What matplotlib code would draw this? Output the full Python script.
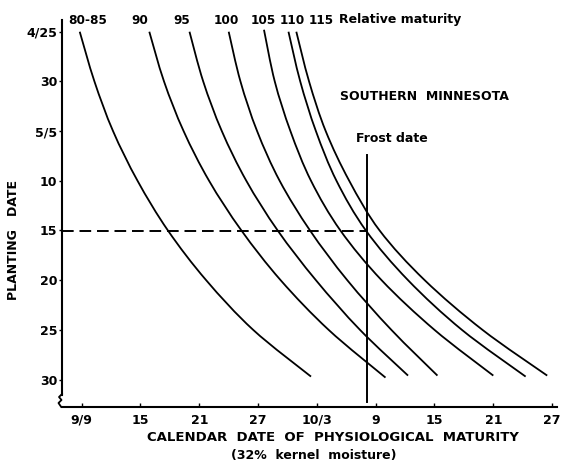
import matplotlib.pyplot as plt
from matplotlib.lines import Line2D
from matplotlib.path import Path
from matplotlib.patches import PathPatch
import numpy as np

plt.rcParams['font.family'] = 'DejaVu Sans'
plt.rcParams['font.weight'] = 'bold'

# x: days after 9/9, y: days after 4/25
x_ticks = [0, 6, 12, 18, 24, 30, 36, 42, 48]
x_labels = ['9/9', '15', '21', '27', '10/3', '9', '15', '21', '27']
y_ticks = [0, 5, 10, 15, 20, 25, 30, 35]
y_labels = ['4/25', '30', '5/5', '10', '15', '20', '25', '30']

maturity = ['80-85', '90', '95', '100', '105', '110', '115']

plant_80 = [0, 5, 10, 15, 20, 25, 30, 34.7]
mat_80 = [-0.2, 1.3, 3.2, 5.7, 8.8, 12.7, 17.5, 23.4]
plant_90 = [0, 5, 10, 15, 20, 25, 30, 34.8]
mat_90 = [6.9, 8.4, 10.4, 13.0, 16.3, 20.3, 25.2, 31.0]
plant_95 = [0, 5, 10, 15, 20, 25, 30, 34.6]
mat_95 = [11.0, 12.4, 14.3, 16.8, 20.0, 23.9, 28.4, 33.3]
plant_100 = [0, 5, 10, 15, 20, 25, 30, 34.6]
mat_100 = [15.0, 16.2, 17.9, 20.2, 23.3, 27.1, 31.6, 36.3]
plant_105 = [-0.2, 5, 10, 15, 20, 25, 30, 34.6]
mat_105 = [18.6, 19.7, 21.3, 23.4, 26.4, 30.6, 36.0, 42.0]
plant_110 = [0, 5, 10, 15, 20, 25, 30, 34.7]
mat_110 = [21.1, 22.3, 23.9, 26.0, 29.0, 33.3, 38.8, 45.3]
plant_115 = [0, 5, 10, 15, 20, 25, 30, 34.6]
mat_115 = [21.9, 23.2, 24.9, 27.3, 30.4, 35.0, 40.9, 47.5]

frost_day = 29.1
frost_plant = 20.1

W, H = 562, 465
def fx(px):
    return px / W
def fy(py):
    return 1 - py / H

def smooth_path(xs, ys):
    # Catmull-Rom through the read points, as cubic bezier pieces
    P = np.column_stack([xs, ys]).astype(float)
    n = len(P)
    verts = [P[0]]
    codes = [Path.MOVETO]
    for i in range(n - 1):
        p0 = P[i - 1] if i > 0 else P[i]
        p3 = P[i + 2] if i + 2 < n else P[i + 1]
        c1 = P[i] + (P[i + 1] - p0) / 6
        c2 = P[i + 1] - (p3 - P[i]) / 6
        verts += [c1, c2, P[i + 1]]
        codes += [Path.CURVE4] * 3
    return Path(verts, codes)

fig = plt.figure(figsize=(W / 100, H / 100), dpi=100)
ax = fig.add_axes([fx(61.7), fy(406.7), (557 - 61.7) / W, (406.7 - 20) / H])
ax.set_xlim(-2.04, 48.5)
ax.set_ylim(37.73, -1.18)

curves = [(mat_80, plant_80), (mat_90, plant_90), (mat_95, plant_95),
          (mat_100, plant_100), (mat_105, plant_105), (mat_110, plant_110),
          (mat_115, plant_115)]
for m, p in curves:
    ax.add_patch(PathPatch(smooth_path(m, p), fill=False, edgecolor='k', linewidth=1.3))

# frost date + 5/15 planting
ax.plot([frost_day, frost_day], [12.4, 37.3], color='k', linewidth=1.4)
ax.plot([-2.04, frost_day], [frost_plant, frost_plant], color='k',
        linewidth=1.4, dashes=(6, 3))

ax.spines['top'].set_visible(False)
ax.spines['right'].set_visible(False)
ax.spines['left'].set_linewidth(1.5)
ax.spines['bottom'].set_linewidth(1.5)
ax.spines['left'].set_bounds(-1.18, 36.55)

ax.set_xticks(x_ticks, x_labels)
ax.set_yticks(y_ticks, y_labels)
ax.tick_params(axis='x', direction='in', length=3, width=1, pad=5, labelsize=9)
ax.tick_params(axis='y', direction='out', length=2, width=1, pad=1, labelsize=9)

# axis break
brk = [(62, 394), (59, 397), (61.5, 400), (58.5, 403), (61, 406.7)]
fig.add_artist(Line2D([fx(p[0]) for p in brk], [fy(p[1]) for p in brk],
                      color='k', linewidth=1.3, transform=fig.transFigure))

lab_x = [68, 131, 173, 214, 251, 280, 309]
for lab, px in zip(maturity, lab_x):
    fig.text(fx(px), fy(20), lab, ha='left', va='center', fontsize=8.7)
fig.text(fx(339), fy(20), 'Relative maturity', ha='left', va='center', fontsize=9)

fig.text(fx(424), fy(97), 'SOUTHERN  MINNESOTA', ha='center', va='center', fontsize=9)
fig.text(fx(392), fy(138), 'Frost date', ha='center', va='center', fontsize=9)

fig.text(fx(333), fy(437), 'CALENDAR  DATE  OF  PHYSIOLOGICAL  MATURITY',
         ha='center', va='center', fontsize=9.5)
fig.text(fx(314), fy(455), '(32%  kernel  moisture)', ha='center', va='center', fontsize=9)
fig.text(fx(14), fy(240), 'PLANTING   DATE', rotation=90, ha='center', va='center', fontsize=9)

plt.savefig('out.png', dpi=100)
